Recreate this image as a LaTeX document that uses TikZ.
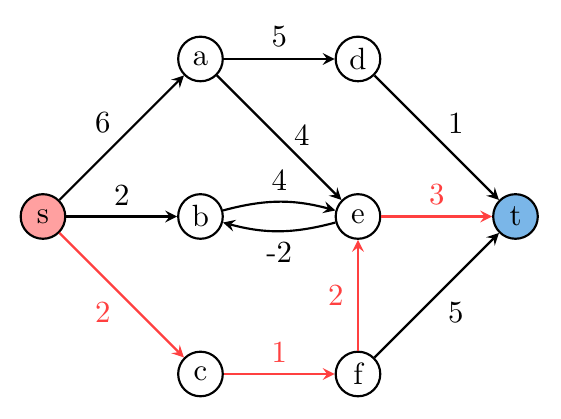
\documentclass[tikz,border=0pt]{standalone}
\usepackage{pgf, tikz}
\usepackage{xcolor}
\definecolor{srcfill}{RGB}{255,160,160}
\definecolor{sinkfill}{RGB}{122,182,232}
\definecolor{pathred}{RGB}{255,64,64}
\tikzset{vertex/.style={circle,draw,line width=0.7pt,minimum size=14.5pt,inner sep=1pt},
  hot/.style={pathred,text=pathred}}
\begin{document}
\begin{tikzpicture}[line width=0.7pt]
\useasboundingbox (-0.491,-2.314) rectangle (5.92,2.474);

\node[vertex,fill=srcfill](s) at(0,0){s};
\node[vertex](a) at(1.8,1.8){a};
\node[vertex](b) at(1.8,0){b};
\node[vertex](c) at(1.8,-1.8){c};
\node[vertex](d) at(3.6,1.8){d};
\node[vertex](e) at(3.6,0){e};
\node[vertex](f) at(3.6,-1.8){f};
\node[vertex,fill=sinkfill](t) at(5.4,0){t};
\draw [->,>=stealth,](s)--(a) node[pos=0.5,above left,yshift=-2.3pt]{6};
\draw [->,>=stealth,](s)--(b) node[pos=0.5,above]{2};
\draw [->,>=stealth,hot](s)--(c) node[pos=0.5,below left,yshift=1.5pt]{2};
\draw [->,>=stealth,](a)--(d) node[pos=0.5,above]{5};
\draw [->,>=stealth,](a)--(e) node[pos=0.48,right,xshift=2pt]{4};
\draw [->,>=stealth,](b) to[bend left=15] node[above]{4} (e);
\draw [->,>=stealth,](e) to[bend left=15] node[below]{-2} (b);
\draw [->,>=stealth,hot](c)--(f) node[pos=0.5,above]{1};
\draw [->,>=stealth,](d)--(t) node[pos=0.5,above right,yshift=-2.3pt]{1};
\draw [->,>=stealth,hot](e)--(t) node[pos=0.5,above]{3};
\draw [->,>=stealth,hot](f)--(e) node[pos=0.5,left,xshift=-1pt]{2};
\draw [->,>=stealth,](f)--(t) node[pos=0.5,below right,yshift=1.5pt]{5};
\end{tikzpicture}
\end{document}
